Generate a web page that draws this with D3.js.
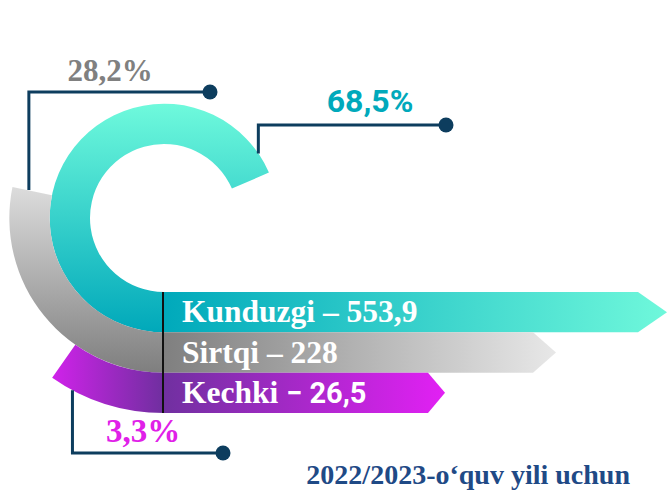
<!DOCTYPE html>
<html>
<head>
<meta charset="utf-8">
<script src="https://cdn.jsdelivr.net/npm/d3@7"></script>
<style>
  body { margin: 0; background: #fff; }
  svg { display: block; }
</style>
</head>
<body>
<div id="chart"></div>
<script>
// data
const categories = ['Kunduzgi', 'Sirtqi', 'Kechki']
const values = ['553,9', '228', '26,5']
const shares = [68.5, 28.2, 3.3]
const shareLabels = ['68,5%', '28,2%', '3,3%']
const footer = '2022/2023-o\u2018quv yili uchun'

const W = 667, H = 491
const cx = 164, cy = 218
const navy = '#0d3d5e'
const serif = 'Liberation Serif, Times New Roman, serif'
const sans = 'Roboto, Liberation Sans, sans-serif'

const svg = d3.select('#chart').append('svg')
    .attr('width', W)
    .attr('height', H)

const defs = svg.append('defs')
function grad(id, x1, y1, x2, y2, c1, c2) {
    const g = defs.append('linearGradient').attr('id', id)
        .attr('gradientUnits', 'userSpaceOnUse')
        .attr('x1', x1).attr('y1', y1).attr('x2', x2).attr('y2', y2)
    g.append('stop').attr('offset', 0).attr('stop-color', c1)
    g.append('stop').attr('offset', 1).attr('stop-color', c2)
}
// ring gradients (coords relative to ring centre)
grad('ring0', 0, 103 - cy, 0, 333 - cy, '#6ffadc', '#00a8ba')
grad('ring1', 0, 188 - cy, 0, 372 - cy, '#dcdcdc', '#7f7f7f')
grad('ring2', 52 - cx, 0, 164 - cx, 0, '#d022ea', '#6f2f9f')
// bar gradients
grad('bar0', 163, 0, 667, 0, '#00a9bb', '#6ff8db')
grad('bar1', 163, 0, 557, 0, '#7f7f7f', '#e8e8e8')
grad('bar2', 163, 0, 445, 0, '#7030a0', '#e220f4')

// radius band shared by rings and bars
const band = d3.scaleBand().domain(categories).range([74, 195])
// share -> sweep angle (small shares get a minimum sweep)
const sweep = d3.scaleLinear().domain([0, 100]).range([0, 2 * Math.PI])
const minSweep = 35 * Math.PI / 180
// bar tip x and arrow head by rank
const tipX = d3.scalePoint().domain(categories).range([667, 445])
const headLen = d3.scalePoint().domain(categories).range([29, 17])

const arc = d3.arc()

const g = svg.append('g').attr('transform', `translate(${cx},${cy})`)
g.selectAll('path.ring')
    .data(categories)
    .enter().append('path')
    .attr('class', 'ring')
    .attr('d', (d, i) => arc({
        innerRadius: band(d),
        outerRadius: band(d) + band.bandwidth(),
        startAngle: Math.PI,
        endAngle: Math.PI + Math.max(sweep(shares[i]), minSweep)
    }))
    .attr('fill', (d, i) => `url(#ring${i})`)

// bars
svg.selectAll('path.bar')
    .data(categories)
    .enter().append('path')
    .attr('class', 'bar')
    .attr('d', d => {
        const y0 = cy + band(d), y1 = y0 + band.bandwidth()
        const xe = tipX(d), h = headLen(d)
        return `M${cx - 1},${y0}H${xe - h}L${xe},${(y0 + y1) / 2}L${xe - h},${y1}H${cx - 1}Z`
    })
    .attr('fill', (d, i) => `url(#bar${i})`)

// divider
svg.append('line')
    .attr('x1', cx - 1).attr('x2', cx - 1)
    .attr('y1', cy + band.range()[0]).attr('y2', cy + band.range()[1])
    .attr('stroke', '#111').attr('stroke-width', 2)

// bar labels
const lab = svg.selectAll('text.bar-label')
    .data(categories)
    .enter().append('text')
    .attr('class', 'bar-label')
    .attr('x', 182)
    .attr('y', d => cy + band(d) + band.bandwidth() / 2 + 10)
    .attr('fill', '#fff')
    .attr('font-weight', 'bold')
    .attr('font-size', 31.5)
    .attr('font-family', serif)
lab.each(function (d, i) {
    const t = d3.select(this)
    if (i === 2) {
        t.append('tspan').text(d + ' ')
        t.append('tspan').attr('font-family', sans).attr('font-size', 29).text('\u2212 ' + values[i])
    } else {
        t.text(`${d} \u2013 ${values[i]}`)
    }
})

// leader lines: start on ring, elbow, end dot
function ringPoint(deg, r) {
    const a = deg * Math.PI / 180
    return [cx + r * Math.sin(a), cy - r * Math.cos(a)]
}
const leaders = [
    { p: ringPoint(55.6, band(categories[0]) + band.bandwidth()), y: 125, x2: 446, anchor: 370, ty: 112, color: '#00a9bb', font: sans, size: 32 },
    { p: ringPoint(281.7, band(categories[1]) + band.bandwidth() / 2 + 3.5), y: 92, x2: 210, anchor: 110, ty: 81, color: '#808080', font: serif, size: 31 },
    { p: ringPoint(208, band(categories[2]) + band.bandwidth()), y: 453, x2: 223, anchor: 143, ty: 442, color: '#e020e8', font: serif, size: 33 }
]
leaders.forEach((l, i) => {
    svg.append('path')
        .attr('d', `M${l.p[0]},${l.p[1]}V${l.y}H${l.x2}`)
        .attr('fill', 'none')
        .attr('stroke', navy)
        .attr('stroke-width', 3)
    svg.append('circle')
        .attr('cx', l.x2).attr('cy', l.y).attr('r', 7.5)
        .attr('fill', navy)
    svg.append('text')
        .attr('x', l.anchor).attr('y', l.ty)
        .attr('text-anchor', 'middle')
        .attr('font-family', l.font)
        .attr('font-weight', 'bold')
        .attr('font-size', l.size)
        .attr('fill', l.color)
        .text(shareLabels[i])
})

// footer
svg.append('text')
    .attr('x', 630).attr('y', 484)
    .attr('text-anchor', 'end')
    .attr('font-family', serif)
    .attr('font-weight', 'bold')
    .attr('font-size', 28)
    .attr('fill', '#1f4a86')
    .text(footer)
</script>
</body>
</html>
